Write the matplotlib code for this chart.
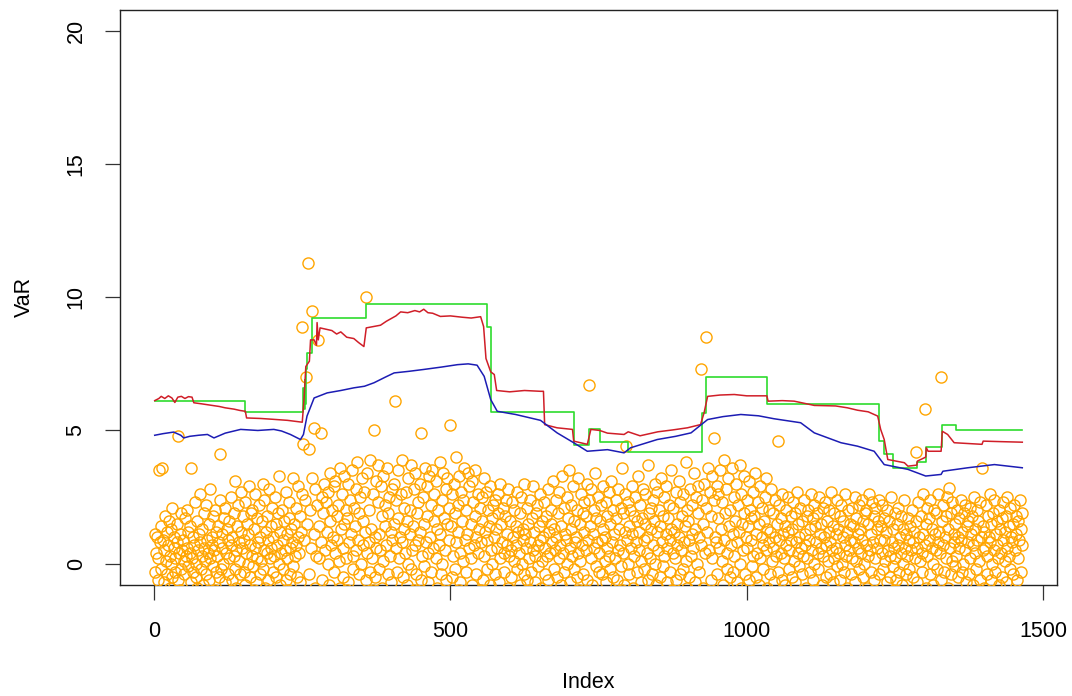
import numpy as np
import matplotlib
matplotlib.use("Agg")
import matplotlib.pyplot as plt

plt.rcParams['font.family'] = ['Liberation Sans', 'DejaVu Sans']

# Daily losses (one value per index, 1..N)
loss = [
    1.1, -0.3, 0.4, -1.5, 1.0, -0.6, 0.2, 3.5, -1.2, 0.8, 1.4, -0.2, -2.0, 3.6, 0.9, -0.7, 0.5, 1.8, -1.1, 0.1, 1.2, -0.4, 0.7, -1.8, 1.6,
    0.3, -0.9, 1.3, 0.0, -0.5, 2.1, -1.4, 0.6, 1.0, -0.3, 0.2, -2.3, 1.5, 0.8, 4.8, -0.6, 0.4, 1.1, -1.0, -0.2, 1.9, 0.5, -1.6, 0.9, 0.1,
    -0.4, 1.7, 0.3, -1.2, 2.0, 0.6, -0.1, 1.2, -2.1, 0.4, 1.4, -0.7, 3.6, 0.2, -0.3, 1.0, -1.5, 0.7, 2.3, -0.5, 0.0, 1.6, -0.9, 0.5, 1.1,
    -1.3, 0.8, 2.6, -0.2, 0.3, 1.3, -0.8, -1.9, 0.6, 1.9, 0.1, -0.4, 2.2, 0.9, -1.1, 0.4, 1.5, -0.6, 2.8, 0.2, -2.4, 1.0, 0.7, -0.1, 1.8,
    0.5, -1.0, 2.0, 1.2, -0.3, 0.3, -1.7, 1.4, 0.8, -0.5, 2.4, 4.1, -0.2, 0.6, 1.1, -1.3, 0.0, 1.7, -0.7, 2.1, 0.4, -2.0, 1.3, 0.9, -0.4,
    1.6, 0.2, -1.1, 2.5, 0.7, -0.6, 1.0, -1.5, 0.3, 1.9, 3.1, -0.2, 0.5, -0.9, 1.4, 2.2, -1.8, 0.8, 0.1, -0.4, 1.2, 2.7, -1.2, 0.6, 1.8,
    -0.3, 0.9, 2.3, -0.8, 0.4, 1.5, -2.2, 0.0, 1.1, 2.9, -0.5, 0.7, -1.4, 1.9, 0.3, 2.0, -0.1, -1.0, 1.3, 0.6, 2.6, -0.7, 0.2, 1.7, -1.6,
    0.8, 2.2, -0.4, 1.0, 0.1, -1.3, 1.6, 3.0, -0.2, 0.5, 2.4, -0.9, 1.2, -2.5, 0.4, 1.8, 0.9, -0.6, 2.8, 0.2, -1.1, 1.4, 0.6, 2.1, -0.3,
    1.0, -1.7, 0.3, 2.5, 1.5, -0.5, 0.7, -1.2, 1.9, 0.0, 3.3, -0.8, 1.2, 0.4, -2.0, 2.0, 0.9, -0.2, 1.6, -1.5, 0.5, 2.7, -0.6, 1.1, 0.2,
    -1.0, 1.7, 2.3, -0.4, 0.6, 1.3, -1.9, 0.8, 3.2, -0.1, 1.5, 0.3, -1.3, 2.1, 0.7, -0.5, 2.9, 1.0, -2.3, 0.4, 1.8, -0.7, 1.2, 2.6, 8.9,
    -1.6, 4.5, 0.9, -2.8, 2.4, -1.2, 7.0, 1.5, -3.1, 11.3, -0.4, 4.3, 2.0, -1.8, 0.6, 3.2, 9.5, -2.5, 5.1, 1.1, -0.9, 2.8, -3.4, 0.3, 2.2,
    8.4, -1.5, 1.4, 0.2, -2.7, 4.9, 0.8, 2.5, -0.6, 1.9, -2.0, 3.0, 0.5, -1.1, 2.3, 1.2, -3.2, 0.0, 2.7, -0.8, 1.6, 3.4, -1.7, 0.7, 2.0,
    -2.4, 1.0, 2.9, -0.3, 0.4, 3.1, -1.4, 1.8, 0.9, -2.9, 2.2, 0.1, 3.6, -0.9, 1.3, -1.9, 2.6, 0.6, -0.5, 3.3, 1.5, -2.2, 0.2, 2.0, -1.0,
    1.7, 3.0, -0.7, 0.8, -2.6, 2.4, 1.1, -1.3, 3.5, 0.3, -0.2, 2.1, -3.0, 1.4, 2.8, 0.5, -1.6, 3.8, 0.9, -0.4, 1.9, -2.1, 2.5, 0.0, 3.2,
    -1.2, 1.6, 0.7, -2.4, 2.7, 1.2, 10.0, -0.6, 0.4, 3.4, -1.8, 2.0, 0.8, -0.3, 3.9, 1.3, -2.7, 0.2, 2.6, -1.0, 5.0, 1.0, -0.5, 3.1, 0.6,
    -1.5, 2.3, 3.7, -0.2, 1.1, -2.8, 0.5, 2.9, 1.8, -0.9, 3.3, 0.1, -1.4, 2.2, 1.4, -3.3, 0.7, 3.6, -0.4, 1.9, 2.5, -1.9, 0.3, 1.2, -0.7,
    2.8, 0.9, -2.2, 1.5, 3.0, 6.1, -1.1, 0.6, 2.4, -0.3, 1.7, 3.5, -2.5, 0.2, 1.0, 2.6, -1.6, 0.8, 3.9, -0.5, 1.3, 2.1, -2.9, 0.4, 2.7,
    -0.8, 1.6, 0.0, 3.2, -1.7, 2.0, 1.1, -0.2, 3.7, 0.5, -2.3, 1.4, 2.8, -1.0, 0.7, 3.4, -0.4, 1.9, -3.0, 2.3, 0.9, -1.3, 1.2, 3.0, -0.6,
    4.9, 0.3, -1.9, 2.5, 1.5, -0.1, 3.6, 0.8, -2.6, 1.8, 2.9, -0.7, 0.4, 3.3, -1.5, 1.0, 2.2, -0.3, 3.5, 0.6, -2.0, 1.6, 2.6, -1.2, 0.2,
    3.1, 1.3, -0.9, 2.0, 0.7, -2.7, 3.8, 1.1, -0.4, 2.4, 0.0, -1.6, 3.4, 1.7, -3.1, 0.5, 2.8, -0.6, 1.5, 3.2, -1.1, 0.9, 2.1, -2.4, 5.2,
    1.4, -0.5, 2.6, 0.3, -1.8, 3.0, 1.9, -0.2, 4.0, 0.8, -2.5, 2.2, 1.2, -1.0, 3.3, 0.4, -0.7, 2.7, 1.6, -3.2, 0.1, 2.4, 3.6, -1.4, 0.9,
    2.0, -0.3, 1.1, 3.4, -2.1, 0.6, 2.9, -1.2, 1.5, 0.2, 3.1, -0.8, 2.3, -2.8, 0.7, 1.8, 3.5, -0.4, 1.0, -1.7, 2.6, 0.4, 1.3, -2.3, 2.1,
    0.8, -1.0, 2.5, 1.6, -0.6, 3.2, 0.3, -2.0, 1.2, 2.7, -0.2, 0.9, -1.5, 2.0, 1.4, -0.8, 2.9, 0.5, -2.6, 1.7, 0.0, 2.2, -1.3, 1.0, 2.4,
    -0.4, 1.3, 0.6, -1.9, 2.6, 1.9, -0.7, 0.2, 3.0, -1.1, 1.5, 0.8, -2.4, 2.1, 0.4, -0.3, 1.8, 2.4, -1.6, 0.7, 1.1, -0.9, 2.8, 0.3, -2.1,
    1.6, 0.5, -0.5, 2.3, 1.0, -1.4, 0.1, 2.0, -2.7, 1.4, 0.7, -0.2, 2.7, 1.2, -1.2, 0.4, 1.9, -0.8, 2.5, 0.0, -1.7, 1.3, 0.9, -0.4, 3.0,
    1.1, -2.2, 0.6, 2.1, -0.6, 1.5, 0.2, -1.0, 2.4, 0.8, -0.3, 1.7, -2.5, 0.5, 2.9, 1.2, -0.7, 0.3, 1.9, -1.5, 2.2, 0.7, -0.1, 1.4, -1.9,
    0.9, 2.6, -0.9, 0.1, 1.6, -2.0, 1.0, 2.3, -0.4, 0.6, -1.3, 1.8, 0.3, 2.8, -0.6, 1.2, -2.8, 0.4, 2.0, 1.5, -1.1, 0.8, 3.1, -0.2, 1.3,
    -1.6, 0.5, 2.4, 1.0, -0.5, 1.9, -2.3, 0.2, 2.7, 0.7, -0.8, 1.4, 3.3, -1.2, 0.4, 2.1, -0.3, 1.1, -2.0, 0.9, 2.5, 0.0, -1.4, 1.7, 3.5,
    0.6, -0.7, 2.2, 1.3, -1.8, 0.3, 2.9, -0.2, 1.6, 0.8, -2.6, 1.0, 2.0, -0.5, 0.4, 3.2, -1.0, 1.5, 0.1, 2.6, -1.5, 0.7, 1.9, -0.4, 2.3,
    1.2, -2.1, 0.5, 1.8, 3.0, -0.6, 0.9, 2.4, 6.7, -1.3, 1.4, 0.2, 2.8, -0.8, 1.1, -2.4, 2.0, 0.6, 3.4, -0.1, 1.7, -1.1, 0.8, 2.5, -0.3,
    0.4, 1.6, -1.7, 2.2, 0.9, -0.4, 1.3, 2.9, -2.2, 0.1, 1.0, 2.3, -0.7, 0.6, 1.8, -1.4, 2.7, 0.3, -0.2, 1.5, 3.1, -1.9, 0.8, 2.0, -0.5,
    1.1, 0.2, -1.2, 2.4, 1.7, -0.6, 0.5, 2.8, -2.5, 1.3, 0.7, -0.1, 2.1, 3.6, -1.0, 0.4, 1.9, -0.8, 1.2, 2.6, 4.4, -1.6, 0.9, 0.0, 2.3,
    -0.4, 1.4, 2.0, -2.0, 0.6, 1.1, 2.9, -0.9, 0.3, 1.8, -1.5, 2.5, 0.8, -0.3, 1.6, 3.3, -2.7, 0.5, 1.2, 2.2, -0.7, 0.1, 1.7, -1.2, 2.8,
    0.9, -0.2, 1.5, 2.6, -1.8, 0.4, 1.0, 3.7, -0.6, 1.9, 0.2, -2.3, 2.1, 1.3, -0.4, 0.7, 2.4, -1.1, 1.6, 0.0, 3.0, -0.8, 1.2, 2.7, -1.4,
    0.5, 2.0, -0.5, 1.4, 3.2, -2.1, 0.8, 1.8, -0.1, 2.5, 0.3, -1.6, 1.1, 2.9, -0.7, 0.6, 1.7, -2.6, 2.2, 0.9, -0.3, 1.3, 3.5, -1.0, 0.4,
    2.1, 1.2, -1.3, 0.2, 2.7, -0.6, 1.5, 0.7, -2.0, 3.1, 1.0, -0.4, 2.3, 0.5, -1.7, 1.8, 2.6, -0.2, 0.8, -2.4, 1.4, 3.8, 0.1, -0.9, 2.0,
    1.6, -0.5, 0.9, 2.8, -1.5, 0.3, 2.2, 1.1, -2.8, 0.6, 3.4, -0.7, 1.3, 2.5, -1.2, 0.0, 1.9, 2.9, -0.3, 1.0, -2.2, 7.3, 0.7, 2.4, -1.8,
    1.5, -0.9, 3.0, 0.4, -3.2, 2.1, 8.5, 1.2, -1.4, 3.6, 0.5, -2.5, 2.7, 1.8, -0.6, 3.3, 0.2, -1.9, 2.4, 4.7, 1.0, -3.0, 0.8, 2.9, -0.4,
    1.7, 2.6, -1.1, 0.6, 3.5, -2.2, 1.3, 0.1, 2.3, -0.8, 3.9, 0.9, -1.6, 1.9, 2.8, -0.2, 0.4, -2.7, 3.2, 1.4, -0.5, 2.0, 0.7, -1.3, 3.6,
    1.1, -0.3, 2.5, 0.3, -2.1, 1.6, 3.0, -0.7, 0.8, 2.2, -1.5, 1.2, 3.7, 0.0, -0.9, 2.6, 1.5, -2.4, 0.5, 1.9, 3.3, -0.4, 1.0, -1.8, 2.4,
    0.6, 1.4, -0.6, 3.1, 2.0, -2.6, 0.9, 1.7, -0.1, 2.7, 0.3, -1.2, 1.8, 3.4, -0.5, 1.1, 0.4, -2.0, 2.3, 1.5, -0.8, 0.2, 2.9, -1.4, 1.0,
    2.1, -0.2, 0.7, 1.6, -1.7, 2.5, 0.5, 3.2, -0.9, 1.3, -2.3, 0.8, 2.0, 1.2, -0.4, 2.8, 0.1, -1.5, 1.9, 0.6, -0.7, 2.4, 1.0, -2.8, 0.3,
    1.5, 4.6, -0.3, 0.9, 2.2, -1.1, 0.4, 1.7, -0.6, 2.6, 1.1, -2.1, 0.2, 1.4, -0.8, 2.0, 0.7, -1.6, 1.2, 2.5, -0.2, 0.5, -2.4, 1.8, 0.9,
    -0.5, 1.3, 2.3, -1.3, 0.1, 1.9, -0.7, 0.8, 2.7, -2.0, 0.4, 1.5, -0.1, 1.0, 2.1, -1.8, 0.6, 1.6, -0.4, 0.3, 2.4, -2.6, 1.1, 0.7, -0.9,
    1.8, 0.2, -1.4, 2.0, 0.9, -0.3, 1.3, 2.6, -2.2, 0.5, 1.7, -0.6, 0.0, 2.2, -1.0, 1.4, 0.8, -2.7, 1.9, 0.4, -0.2, 2.5, 1.1, -1.5, 0.6,
    1.5, -0.8, 2.1, 0.3, -1.9, 1.0, 2.3, -0.5, 0.7, 1.6, -2.3, 0.1, 2.0, 1.2, -0.4, 0.8, -1.2, 2.7, 0.5, 1.4, -0.7, 0.2, 1.9, -2.1, 1.1,
    0.6, -0.1, 2.4, 1.3, -1.6, 0.4, 1.8, -0.6, 2.2, 0.0, -2.5, 1.0, 1.6, -0.3, 0.7, 2.6, -1.3, 0.3, 1.2, -0.9, 2.0, 0.5, -2.0, 1.5, 0.9,
    -0.4, 2.1, 0.2, 1.4, -1.1, 0.8, 2.5, -0.7, 0.1, 1.7, -2.4, 1.1, 0.6, 2.2, -0.2, 1.3, -1.7, 0.4, 2.4, 0.9, -0.5, 1.6, 0.0, -2.2, 1.9,
    0.7, 2.0, -0.9, 0.3, 1.5, -1.4, 2.6, 0.5, -0.3, 1.1, 2.3, -2.0, 0.8, 1.8, -0.6, 0.2, 2.1, -1.2, 1.3, 0.6, -2.6, 1.6, 2.4, -0.4, 0.9,
    1.4, -1.8, 0.4, 2.2, -0.2, 0.9, 1.7, -2.3, 0.1, 1.2, -0.7, 2.0, 0.5, -1.5, 1.6, 0.3, -0.5, 2.5, -2.1, 0.8, 1.3, -0.1, 0.6, -1.0, 1.9,
    0.2, -0.6, 1.5, -2.4, 0.7, 2.1, -0.3, 1.0, -1.3, 0.4, 1.8, -0.8, 0.0, 1.3, -2.0, 2.4, 0.6, -0.4, 1.1, -1.6, 0.3, 1.7, -0.2, 0.9, -2.7,
    1.4, 0.5, -1.1, 2.0, 0.8, -0.5, 1.2, -1.9, 0.2, 1.6, 4.2, -0.7, 0.6, 2.3, -1.4, 1.0, 0.1, -2.2, 1.8, 0.4, -0.3, 2.6, 1.1, -1.7, 0.7,
    5.8, 1.5, -0.9, 0.3, 2.1, -1.2, 0.9, 1.7, -0.4, 2.4, -2.5, 0.6, 1.3, 0.0, -0.8, 2.0, 1.1, -1.6, 0.5, 1.9, -0.2, 2.6, 0.8, -2.1, 1.2,
    0.4, -0.6, 7.0, 1.6, -1.4, 2.2, 0.7, -0.3, 1.0, -2.0, 1.8, 0.2, 2.5, -0.9, 1.3, 2.85, -1.5, 0.6, 1.9, -0.4, 0.1, 2.3, -2.3, 1.1, 0.8,
    -0.1, 1.5, 0.3, -1.8, 2.0, 1.0, -0.5, 0.6, 1.7, -2.6, 0.9, 2.4, -0.3, 1.2, 0.0, -1.2, 1.9, 0.5, 2.2, -0.7, 1.4, -2.0, 0.8, 1.6, -0.4,
    2.1, 0.2, -1.5, 1.1, 1.8, -0.8, 0.7, 2.5, -2.2, 0.4, 1.3, -0.2, 2.0, 0.9, -1.3, 1.6, 0.1, -0.6, 2.3, 1.0, -2.4, 3.6, 0.5, 1.4, -0.9,
    1.2, 0.6, -1.7, 2.2, 0.3, -0.4, 1.8, 1.0, -2.1, 0.8, 2.6, -0.6, 1.5, 0.0, -1.1, 1.9, 0.5, 2.4, -0.3, 1.1, -2.5, 0.7, 1.6, 0.2, -0.8,
    2.0, 1.3, -1.4, 0.4, 1.7, -0.5, 2.3, 0.9, -2.0, 1.2, 0.1, 1.8, -0.7, 2.5, 0.6, -1.6, 1.4, 0.3, -0.2, 2.1, 1.0, -2.3, 0.8, 1.5, -0.4,
    2.2, 0.5, -1.2, 1.1, 1.8, -0.6, 0.2, 1.6, -1.9, 0.9, 2.4, -0.3, 1.3, 0.7, 1.9,
]

# Historical-simulation VaR (red), read at its turning points
red_x = [1, 8, 12, 18, 24, 30, 35, 40, 46, 52, 58, 64, 67, 80, 95, 110, 120, 135, 145, 154, 156,
         180, 200, 225, 250, 253, 256, 262, 264, 270, 274, 275, 277, 280, 290, 300, 308, 315, 325,
         337, 345, 354, 358, 370, 382, 392, 400, 408, 416, 428, 440, 448, 455, 462, 470, 483, 500,
         520, 535, 551, 556, 560, 568, 574, 578, 600, 625, 652, 657, 659, 680, 706, 708, 731, 737,
         752, 765, 793, 800, 820, 850, 875, 900, 922, 928, 934, 955, 979, 1000, 1034, 1036, 1060,
         1080, 1114, 1150, 1170, 1187, 1205, 1221, 1226, 1232, 1238, 1266, 1272, 1287, 1288, 1302,
         1303, 1306, 1328, 1330, 1339, 1350, 1397, 1399, 1430, 1465]
red_y = [6.12, 6.2, 6.28, 6.2, 6.3, 6.22, 6.05, 6.25, 6.28, 6.2, 6.27, 6.25, 6.04, 6.0, 5.95, 5.9,
         5.85, 5.8, 5.75, 5.72, 5.47, 5.45, 5.42, 5.38, 5.31, 6.2, 7.4, 7.6, 8.4, 8.4, 8.2, 9.05,
         8.4, 8.85, 8.8, 8.75, 8.62, 8.7, 8.5, 8.45, 8.3, 8.15, 8.85, 8.9, 8.95, 9.1, 9.2, 9.3, 9.45,
         9.42, 9.5, 9.45, 9.55, 9.42, 9.4, 9.28, 9.3, 9.25, 9.22, 9.27, 8.9, 7.7, 7.2, 7.1, 6.5, 6.45,
         6.5, 6.47, 6.47, 5.22, 5.1, 5.04, 4.6, 4.48, 5.04, 5.0, 4.9, 4.85, 4.95, 4.8, 4.95, 5.02,
         5.1, 5.22, 5.66, 6.28, 6.33, 6.35, 6.3, 6.3, 6.1, 6.12, 6.1, 5.94, 5.92, 5.85, 5.76, 5.7,
         5.54, 5.04, 4.66, 3.91, 3.79, 3.66, 3.7, 3.85, 4.0, 4.35, 4.22, 4.22, 4.97, 4.85, 4.54,
         4.48, 4.6, 4.58, 4.56]

# Normal VaR (blue)
blue_x = [1, 15, 33, 45, 50, 60, 75, 90, 101, 120, 146, 175, 202, 215, 230, 247, 252, 258, 270,
          292, 315, 337, 355, 371, 390, 405, 430, 455, 485, 512, 530, 545, 557, 568, 579, 610, 652,
          680, 708, 731, 765, 793, 804, 849, 880, 906, 934, 960, 990, 1020, 1046, 1091, 1114, 1159,
          1187, 1215, 1232, 1272, 1302, 1328, 1331, 1373, 1418, 1465]
blue_y = [4.82, 4.88, 4.94, 4.82, 4.72, 4.78, 4.82, 4.85, 4.72, 4.9, 5.04, 5.0, 5.04, 4.98, 4.85,
          4.66, 4.85, 5.54, 6.22, 6.41, 6.5, 6.6, 6.66, 6.79, 7.0, 7.16, 7.22, 7.29, 7.38, 7.47, 7.5,
          7.45, 7.03, 6.16, 5.72, 5.6, 5.38, 4.91, 4.54, 4.22, 4.28, 4.16, 4.35, 4.66, 4.78, 4.91,
          5.41, 5.52, 5.6, 5.55, 5.44, 5.29, 4.91, 4.54, 4.41, 4.22, 3.72, 3.54, 3.29, 3.35, 3.47,
          3.6, 3.72, 3.6]

# Piecewise-constant VaR (green): level starting at each index
green_x = [1, 154, 252, 253, 254, 255, 256, 258, 266, 358, 561, 568, 708, 734, 752, 800, 924, 932,
           1034, 1224, 1232, 1246, 1287, 1302, 1330, 1353, 1465]
green_y = [6.12, 5.70, 6.6, 5.8, 6.9, 6.0, 7.3, 7.9, 9.22, 9.76, 8.9, 5.69, 4.45, 5.07, 4.57, 4.20,
           5.66, 7.00, 6.01, 4.60, 4.10, 3.58, 3.83, 4.38, 5.19, 5.0, 5.0]

x_ticks = [0, 500, 1000, 1500]
y_ticks = [0, 5, 10, 15, 20]

W, H = 1072, 696
fig = plt.figure(figsize=(W / 100, H / 100), dpi=100)
ax = fig.add_axes([120 / W, (H - 585) / H, (1057 - 120) / W, (585 - 9.5) / H])

idx = np.arange(1, len(loss) + 1)
ax.plot(idx, loss, linestyle='none', marker='o', markersize=8.0, markerfacecolor='none',
        markeredgecolor='#FFA500', markeredgewidth=1.0, zorder=3)
ax.plot(green_x, green_y, color='#2EDC2E', lw=1.2, drawstyle='steps-post', zorder=4)
ax.plot(red_x, red_y, color='#D01E28', lw=1.1, zorder=5)
ax.plot(blue_x, blue_y, color='#1C1CB4', lw=1.1, zorder=6)

n = len(loss)
ext = 0.04 * (n - 1)
ax.set_xlim(1 - ext, n + ext)
ax.set_ylim(-0.8, 20.8)

ax.set_xticks(x_ticks)
ax.set_yticks(y_ticks)
ax.tick_params(direction='out', length=11, width=0.9, colors='#333333', labelcolor='black',
               labelsize=15.5)
ax.tick_params(axis='x', pad=15)
ax.tick_params(axis='y', pad=13)
for lab in ax.get_yticklabels():
    lab.set_rotation(90)
    lab.set_va('center')

for sp in ax.spines.values():
    sp.set_linewidth(1.0)
    sp.set_color('#222222')
    sp.set_zorder(2)

fig.text(588 / W, 1 - 683 / H, 'Index', ha='center', va='center', fontsize=15.5)
fig.text(24 / W, 1 - 297 / H, 'VaR', ha='center', va='center', rotation=90, fontsize=15.5)

fig.savefig('out.png', dpi=100)
